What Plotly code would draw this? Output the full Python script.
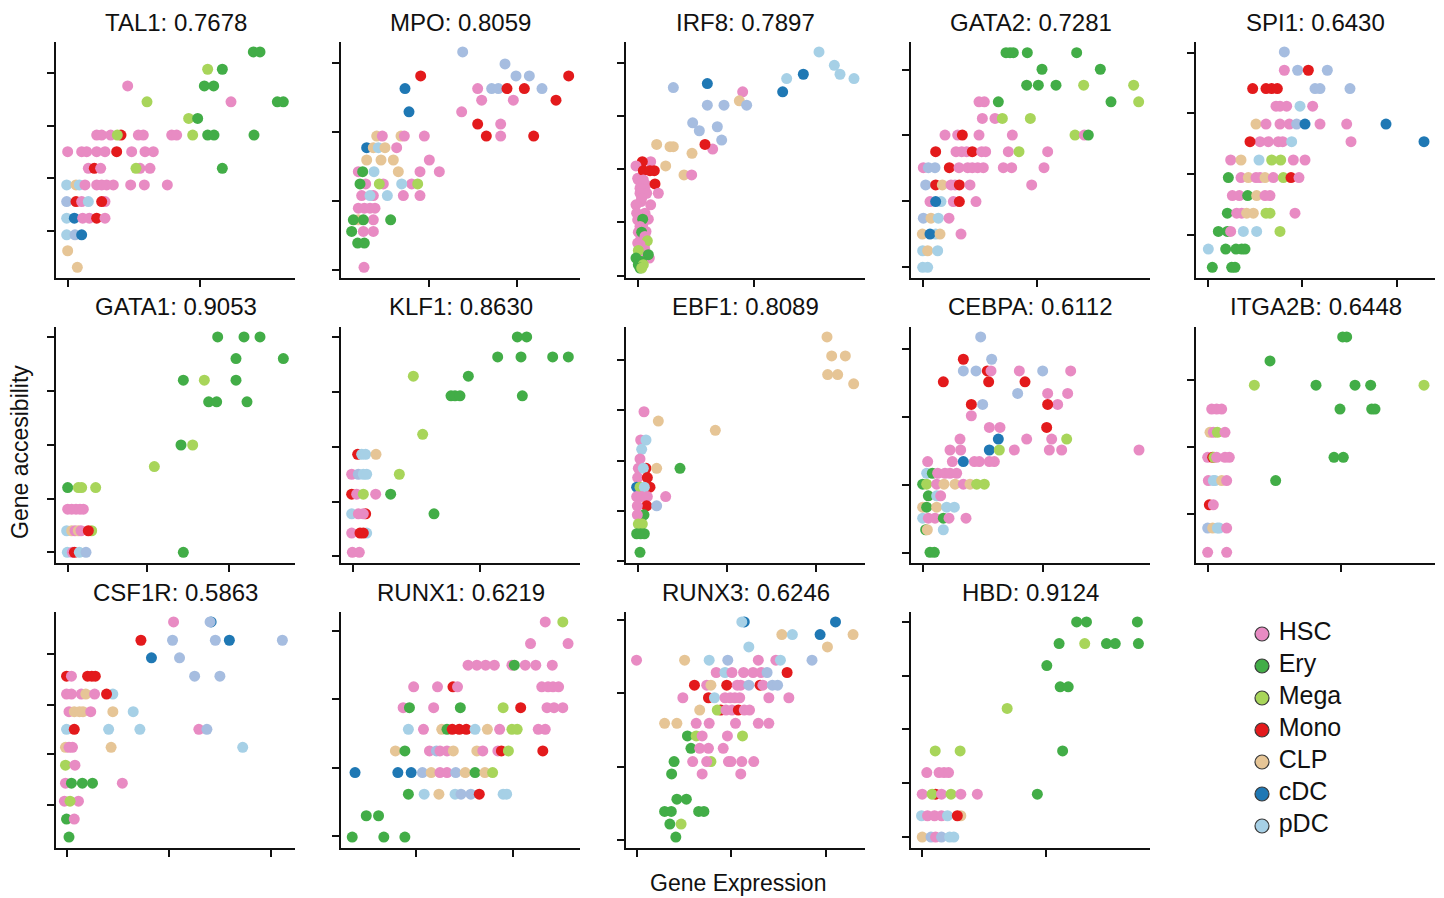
import plotly.graph_objects as go

W, H = 1444, 898

CELL_TYPES = ["HSC", "Ery", "Mega", "Mono", "CLP", "cDC", "pDC"]
CODE_NAME = {"H": "HSC", "E": "Ery", "M": "Mega", "O": "Mono", "C": "CLP", "D": "cDC", "P": "pDC", "Q": "pDC"}
COLORS = {"H": "#e88bc3", "E": "#42ad47", "M": "#a8d55a", "O": "#e31a1c",
          "C": "#e6c596", "D": "#1f78b4", "P": "#a6d0e6", "Q": "#a6bde0"}
LEGEND_CODES = ["H", "E", "M", "O", "C", "D", "P"]

GENES = ["TAL1", "MPO", "IRF8", "GATA2", "SPI1", "GATA1", "KLF1", "EBF1",
         "CEBPA", "ITGA2B", "CSF1R", "RUNX1", "RUNX3", "HBD"]
SCORES = ["0.7678", "0.8059", "0.7897", "0.7281", "0.6430", "0.9053", "0.8630", "0.8089",
          "0.6112", "0.6448", "0.5863", "0.6219", "0.6246", "0.9124"]

# (expression, accessibility, cell type code)
TAL1 = [
    (32,280,'P'),(60,280,'C'),(70,280,'P'),(87,280,'H'),(122,280,'H'),(137,280,'H'),(152,280,'H'),(172,280,'H'),
    (224,280,'H'),(265,280,'H'),(334,280,'H'),
    (32,230,'Q'),(60,230,'O'),(77,230,'H'),(97,230,'P'),(147,230,'H'),(137,230,'O'),
    (32,180,'P'),(55,180,'D'),(80,180,'H'),(100,180,'H'),(122,180,'O'),(147,180,'H'),
    (32,130,'P'),(57,130,'Q'),(77,130,'D'),
    (35,82,'C'),(64,32,'C'),
    (97,330,'H'),(115,330,'O'),(134,330,'H'),(252,330,'H'),(240,330,'M'),(282,330,'H'),(499,330,'E'),
    (35,380,'H'),(77,380,'H'),(92,380,'H'),(122,380,'H'),(147,380,'H'),(182,380,'O'),(227,380,'H'),(267,380,'H'),(292,380,'H'),
    (122,430,'H'),(137,430,'H'),(164,430,'H'),(195,430,'O'),(184,430,'M'),(247,430,'H'),(262,430,'H'),(347,430,'H'),
    (362,430,'H'),(410,430,'M'),(455,430,'E'),(474,430,'E'),(594,430,'E'),
    (398,480,'M'),(425,480,'E'),
    (273,530,'M'),(525,530,'H'),(664,530,'E'),(682,530,'E'),
    (215,578,'H'),(445,578,'E'),(473,578,'E'),
    (455,628,'M'),(499,628,'E'),
    (592,680,'E'),(612,680,'E'),
]
MPO = [
    (365,680,'Q'),(492,644,'Q'),
    (239,608,'O'),(525,608,'Q'),(565,608,'Q'),(683,608,'O'),
    (192,570,'D'),(410,570,'H'),(452,570,'Q'),(472,570,'Q'),(498,570,'O'),(550,570,'O'),(603,570,'Q'),
    (422,535,'H'),(517,535,'H'),(645,535,'O'),
    (204,500,'D'),(362,500,'H'),
    (410,463,'O'),(479,463,'H'),
    (107,427,'C'),(124,427,'H'),(180,427,'C'),(190,427,'H'),(250,427,'H'),(436,427,'O'),(479,427,'H'),(578,427,'O'),
    (77,392,'D'),(97,392,'C'),(112,392,'P'),(132,392,'C'),(167,392,'H'),
    (77,355,'C'),(120,355,'C'),(157,355,'C'),(265,355,'H'),
    (52,320,'H'),(65,320,'E'),(99,320,'P'),(172,320,'C'),(237,320,'H'),(295,320,'H'),
    (74,283,'H'),(57,283,'E'),(127,283,'H'),(115,283,'M'),(212,283,'H'),(182,283,'P'),(230,283,'M'),
    (62,248,'H'),(97,248,'H'),(87,248,'P'),(139,248,'P'),(187,248,'H'),(237,248,'H'),
    (52,210,'H'),(70,210,'H'),(87,210,'H'),(102,210,'H'),
    (52,175,'C'),(97,175,'H'),(37,175,'E'),(67,175,'E'),(149,175,'E'),
    (67,140,'H'),(97,140,'H'),(32,140,'E'),
    (50,105,'E'),(70,105,'E'),
    (69,32,'H'),
]
IRF8 = [
    (579,680,'P'),(625,640,'P'),(532,613,'D'),(642,613,'P'),(482,600,'P'),(684,600,'P'),
    (244,585,'D'),(142,573,'Q'),(350,560,'H'),(470,560,'D'),(340,533,'C'),
    (244,520,'Q'),(294,520,'Q'),(362,520,'Q'),
    (200,467,'Q'),(274,455,'Q'),(220,443,'Q'),(287,415,'Q'),
    (92,402,'C'),(132,395,'C'),(142,395,'C'),(260,388,'H'),(237,402,'O'),(198,375,'C'),
    (74,350,'H'),(49,350,'O'),(30,337,'H'),(119,337,'C'),
    (35,300,'H'),(60,280,'H'),(45,230,'H'),(35,175,'H'),(50,160,'H'),(60,140,'H'),(45,120,'H'),
    (35,105,'H'),(55,95,'H'),(40,75,'H'),
    (52,323,'O'),(72,323,'O'),(85,323,'O'),(174,310,'C'),(197,310,'H'),
    (37,295,'H'),(52,295,'H'),(87,283,'O'),(42,270,'H'),
    (97,255,'H'),(42,255,'H'),(62,255,'H'),(47,240,'H'),(30,220,'H'),(74,220,'H'),
    (32,195,'H'),(57,195,'H'),(67,177,'H'),(50,177,'E'),
    (42,155,'H'),(37,138,'H'),(47,138,'E'),(57,125,'H'),(64,112,'M'),(42,100,'H'),
    (57,83,'H'),(37,83,'M'),(70,60,'H'),(67,70,'E'),(30,60,'E'),(47,50,'E'),
    (37,40,'E'),(52,40,'M'),(42,30,'E'),(47,30,'M'),
]
GATA2 = [
    (285,678,'E'),(297,678,'E'),(307,678,'E'),(349,678,'E'),(497,678,'E'),
    (393,628,'E'),(568,628,'E'),
    (347,580,'E'),(382,580,'E'),(435,580,'E'),(518,580,'M'),(668,580,'M'),
    (204,530,'H'),(220,530,'H'),(262,530,'E'),(600,530,'E'),(683,530,'M'),
    (214,480,'H'),(252,480,'H'),(274,480,'M'),(358,480,'M'),
    (102,430,'H'),(140,430,'H'),(154,430,'O'),(204,430,'H'),(304,430,'H'),(492,430,'M'),(520,430,'H'),(532,430,'E'),
    (74,380,'O'),(135,380,'H'),(152,380,'H'),(167,380,'H'),(184,380,'O'),(212,380,'H'),(224,380,'H'),(292,380,'H'),
    (324,380,'M'),(410,380,'H'),
    (37,332,'H'),(52,332,'Q'),(72,332,'Q'),(115,332,'O'),(144,332,'H'),(170,332,'H'),(184,332,'H'),(200,332,'H'),
    (217,332,'H'),(277,332,'H'),(302,332,'H'),(399,332,'H'),
    (44,280,'Q'),(74,280,'O'),(94,280,'C'),(120,280,'H'),(132,280,'H'),(145,280,'O'),(177,280,'H'),(362,280,'H'),
    (57,230,'H'),(90,230,'P'),(74,230,'D'),(127,230,'H'),(145,230,'O'),(195,230,'H'),
    (37,180,'Q'),(60,180,'C'),(82,180,'P'),(114,180,'H'),
    (34,132,'C'),(74,132,'P'),(57,132,'D'),(87,132,'C'),(150,132,'H'),
    (35,82,'P'),(50,82,'C'),(80,82,'P'),
    (35,32,'P'),(50,32,'P'),
]
SPI1 = [
    (265,680,'Q'),
    (265,625,'H'),(305,625,'Q'),(337,625,'O'),(394,625,'Q'),
    (170,570,'O'),(210,570,'O'),(227,570,'O'),(244,570,'O'),(357,570,'Q'),(372,570,'Q'),(462,570,'Q'),
    (240,517,'H'),(252,517,'H'),(272,517,'H'),(312,517,'P'),(350,517,'H'),
    (180,463,'C'),(210,463,'H'),(252,463,'H'),(280,463,'H'),(302,463,'Q'),(327,463,'D'),(372,463,'H'),(452,463,'H'),(570,463,'D'),
    (192,410,'H'),(217,410,'H'),(247,410,'H'),(260,410,'H'),(162,410,'O'),(287,410,'P'),(465,410,'H'),(684,410,'D'),
    (104,355,'H'),(135,355,'C'),(189,355,'P'),(227,355,'M'),(254,355,'M'),(292,355,'H'),(327,355,'H'),
    (97,302,'E'),(135,302,'H'),(157,302,'C'),(180,302,'H'),(192,302,'H'),(207,302,'C'),(232,302,'H'),(262,302,'M'),
    (285,302,'O'),(309,302,'H'),
    (109,248,'H'),(130,248,'H'),(155,248,'E'),(182,248,'C'),(207,248,'H'),(222,248,'H'),
    (94,195,'E'),(122,195,'H'),(137,195,'H'),(152,195,'C'),(172,195,'C'),(210,195,'M'),(222,195,'M'),(297,195,'H'),
    (67,140,'E'),(94,140,'E'),(104,140,'H'),(142,140,'P'),(182,140,'P'),(252,140,'M'),
    (37,87,'P'),(89,87,'E'),(120,87,'E'),(137,87,'E'),(147,87,'E'),
    (49,32,'E'),(107,32,'E'),(117,32,'E'),
]
GATA1 = [
    (485,680,'E'),(564,680,'E'),(612,680,'E'),
    (540,615,'E'),(682,615,'E'),
    (382,550,'E'),(445,550,'M'),(540,550,'E'),
    (458,485,'E'),(482,485,'E'),(573,485,'E'),
    (375,355,'E'),(410,355,'M'),
    (295,290,'M'),
    (35,227,'E'),(67,227,'M'),(77,227,'M'),(119,227,'M'),
    (35,162,'H'),(47,162,'H'),(60,162,'H'),(72,162,'H'),(82,162,'H'),
    (107,97,'M'),(32,97,'P'),(47,97,'C'),(57,97,'H'),(67,97,'C'),(75,97,'H'),(97,97,'O'),
    (34,32,'P'),(49,32,'H'),(55,32,'O'),(70,32,'P'),(90,32,'Q'),(382,32,'E'),
]
KLF1 = [
    (529,680,'E'),(557,680,'E'),
    (470,620,'E'),(540,620,'E'),(635,620,'E'),(682,620,'E'),
    (217,562,'M'),(382,562,'E'),
    (330,503,'E'),(342,503,'E'),(357,503,'E'),(544,503,'E'),
    (245,387,'M'),
    (50,327,'O'),(62,327,'P'),(74,327,'P'),(105,327,'C'),
    (32,267,'H'),(52,267,'Q'),(67,267,'P'),(77,267,'P'),(175,267,'M'),
    (32,207,'O'),(47,207,'H'),(67,207,'M'),(104,207,'H'),(149,207,'E'),
    (32,148,'P'),(52,148,'H'),(74,148,'O'),(67,148,'H'),(279,148,'E'),
    (32,90,'H'),(57,90,'O'),(77,90,'P'),(67,90,'O'),
    (34,32,'H'),(55,32,'H'),
]
EBF1 = [
    (603,680,'C'),(617,623,'C'),(658,623,'C'),(605,567,'C'),(635,567,'C'),(683,539,'C'),
    (54,455,'H'),(97,427,'C'),(268,399,'C'),
    (44,370,'H'),(60,370,'P'),(47,342,'P'),(42,313,'H'),
    (37,285,'H'),(60,285,'O'),(52,285,'P'),(92,285,'C'),(162,285,'E'),
    (35,257,'H'),(64,257,'O'),
    (32,228,'D'),(72,228,'O'),(42,228,'M'),(55,228,'P'),
    (32,200,'H'),(47,200,'H'),(64,200,'H'),(119,200,'H'),
    (62,172,'O'),(34,172,'H'),(92,172,'Q'),
    (54,145,'E'),(34,145,'H'),
    (37,117,'M'),(49,117,'M'),
    (32,88,'E'),(44,88,'E'),(55,88,'E'),
    (42,32,'E'),
]
CEBPA = [
    (209,680,'Q'),
    (157,613,'O'),(242,613,'Q'),
    (157,578,'Q'),(195,578,'Q'),(229,578,'O'),(240,578,'H'),(325,578,'H'),(395,578,'Q'),(479,578,'H'),
    (97,545,'O'),(233,545,'O'),(342,545,'O'),
    (320,510,'Q'),(410,510,'H'),(470,510,'H'),
    (181,477,'O'),(215,477,'Q'),(440,477,'H'),(410,477,'O'),
    (181,443,'H'),
    (235,408,'H'),(267,408,'H'),(407,408,'O'),
    (147,373,'H'),(262,373,'D'),(347,373,'H'),(422,373,'H'),(467,373,'M'),
    (117,340,'H'),(149,340,'H'),(235,340,'D'),(265,340,'M'),(310,340,'H'),(415,340,'H'),(452,340,'H'),(684,340,'H'),
    (50,305,'H'),(124,305,'H'),(157,305,'D'),(190,305,'H'),(205,305,'H'),(235,305,'H'),(250,305,'H'),
    (47,270,'P'),(64,270,'E'),(80,270,'H'),(102,270,'H'),(117,270,'H'),(137,270,'H'),
    (35,237,'E'),(47,237,'M'),(77,237,'H'),(99,237,'C'),(132,237,'C'),(157,237,'H'),(177,237,'C'),(197,237,'M'),(220,237,'M'),
    (52,202,'E'),(77,202,'P'),(89,202,'H'),
    (35,168,'C'),(47,168,'E'),(77,168,'C'),(107,168,'P'),(130,168,'P'),
    (35,135,'P'),(52,135,'H'),(72,135,'H'),(97,135,'E'),(114,135,'H'),(165,135,'H'),
    (44,100,'E'),(49,100,'C'),(97,100,'P'),
    (57,32,'E'),(70,32,'E'),
]
ITGA2B = [
    (440,680,'E'),(452,680,'E'),
    (222,608,'E'),
    (175,535,'M'),(360,535,'E'),(477,535,'E'),(524,535,'E'),(684,535,'M'),
    (47,463,'H'),(62,463,'H'),(77,463,'H'),(432,463,'E'),(527,463,'E'),(537,463,'E'),
    (42,393,'C'),(52,393,'H'),(64,393,'M'),(87,393,'H'),
    (35,318,'H'),(50,318,'O'),(54,318,'M'),(62,318,'H'),(87,318,'H'),(100,318,'H'),(414,318,'E'),(442,318,'E'),
    (37,248,'H'),(52,248,'P'),(57,248,'P'),(77,248,'C'),(92,248,'H'),(239,248,'E'),
    (40,175,'O'),(52,175,'H'),
    (35,105,'Q'),(50,105,'C'),(64,105,'P'),(70,105,'P'),(92,105,'H'),
    (35,32,'H'),(92,32,'H'),
]
CSF1R = [
    (335,680,'H'),(442,680,'D'),(439,680,'Q'),
    (242,625,'O'),(332,625,'Q'),(454,625,'Q'),(494,625,'D'),(645,625,'Q'),
    (272,572,'D'),(352,572,'Q'),
    (30,517,'O'),(44,517,'H'),(90,517,'O'),(102,517,'O'),(112,517,'O'),(395,517,'Q'),(467,517,'Q'),
    (30,463,'H'),(44,463,'H'),(72,463,'H'),(85,463,'C'),(110,463,'H'),(162,463,'P'),(144,463,'O'),
    (37,410,'H'),(52,410,'C'),(67,410,'C'),(77,410,'C'),(99,410,'H'),(162,410,'C'),(220,410,'P'),
    (30,357,'P'),(52,357,'O'),(150,357,'P'),(239,357,'P'),(407,357,'H'),(430,357,'Q'),
    (27,303,'C'),(37,303,'H'),(47,303,'H'),(157,303,'C'),(532,303,'P'),
    (27,249,'M'),(54,249,'H'),
    (27,195,'H'),(44,195,'E'),(75,195,'E'),(104,195,'E'),(189,195,'H'),
    (24,141,'H'),(64,141,'H'),(40,141,'M'),
    (30,87,'E'),(52,87,'H'),
    (37,33,'E'),
]
RUNX1 = [
    (582,680,'H'),(632,680,'M'),
    (540,615,'H'),(647,615,'H'),
    (362,550,'H'),(387,550,'H'),(412,550,'H'),(437,550,'H'),(487,550,'H'),(494,550,'E'),(525,550,'H'),(555,550,'H'),(602,550,'H'),
    (207,485,'H'),(275,485,'H'),(319,485,'O'),(332,485,'H'),(572,485,'H'),(590,485,'H'),(604,485,'H'),(620,485,'H'),
    (177,422,'H'),(195,422,'E'),(264,422,'H'),(340,422,'E'),(462,422,'M'),(512,422,'O'),(587,422,'H'),(607,422,'H'),(632,422,'H'),
    (192,357,'P'),(235,357,'H'),(287,357,'C'),(302,357,'E'),(317,357,'O'),(337,357,'O'),(357,357,'O'),(382,357,'P'),
    (417,357,'C'),(452,357,'H'),(487,357,'M'),(502,357,'M'),(562,357,'H'),(582,357,'H'),
    (155,292,'C'),(182,292,'E'),(252,292,'H'),(272,292,'Q'),(282,292,'H'),(302,292,'H'),(320,292,'C'),(387,292,'C'),
    (404,292,'H'),(447,292,'H'),(457,292,'O'),(477,292,'M'),(575,292,'O'),
    (40,227,'D'),(162,227,'D'),(200,227,'D'),(232,227,'Q'),(257,227,'C'),(282,227,'H'),(302,227,'H'),(327,227,'Q'),
    (354,227,'C'),(382,227,'E'),(410,227,'C'),(432,227,'M'),
    (192,162,'E'),(237,162,'P'),(279,162,'C'),(325,162,'P'),(342,162,'Q'),(370,162,'Q'),(394,162,'O'),(462,162,'P'),(472,162,'P'),
    (72,97,'E'),(107,97,'E'),
    (32,33,'E'),(122,33,'E'),(182,33,'E'),
]
RUNX3 = [
    (337,680,'D'),(330,680,'P'),(597,680,'D'),
    (444,642,'C'),(474,642,'P'),(553,642,'D'),(647,642,'C'),
    (350,605,'P'),(574,605,'C'),
    (30,565,'H'),(167,565,'C'),(237,565,'P'),(290,565,'Q'),(377,565,'H'),(427,565,'H'),(440,565,'P'),(530,565,'Q'),
    (257,528,'H'),(282,528,'P'),(302,528,'H'),(335,528,'H'),(362,528,'H'),(385,528,'H'),(402,528,'Q'),(459,528,'O'),
    (195,490,'O'),(230,490,'H'),(242,490,'C'),(287,490,'O'),(317,490,'H'),(327,490,'H'),(350,490,'Q'),(382,490,'O'),
    (390,490,'H'),(417,490,'Q'),(432,490,'Q'),
    (162,452,'H'),(235,452,'O'),(252,452,'P'),(282,452,'H'),(297,452,'H'),(310,452,'H'),(324,452,'H'),(407,452,'H'),(464,452,'H'),
    (210,415,'C'),(270,415,'O'),(260,415,'M'),(285,415,'H'),(302,415,'H'),(320,415,'O'),(337,415,'H'),(352,415,'H'),
    (110,375,'C'),(145,375,'C'),(200,375,'H'),(237,375,'H'),(312,375,'H'),(377,375,'H'),(407,375,'H'),
    (175,337,'E'),(200,337,'M'),(217,337,'H'),(289,337,'H'),(332,337,'M'),
    (185,300,'E'),(210,300,'H'),(235,300,'H'),(277,300,'H'),
    (137,260,'E'),(190,260,'H'),(242,260,'M'),(230,260,'H'),(292,260,'H'),(299,260,'H'),(330,260,'H'),(364,260,'H'),
    (130,223,'E'),(217,223,'H'),(327,223,'H'),
    (145,147,'E'),(172,147,'E'),
    (110,110,'E'),(129,110,'E'),(207,110,'E'),(222,110,'E'),
    (125,72,'E'),(157,72,'M'),
    (142,33,'E'),
]
HBD = [
    (472,680,'E'),(500,680,'E'),(645,680,'E'),
    (422,615,'E'),(495,615,'M'),(557,615,'E'),(582,615,'E'),(648,615,'E'),
    (387,549,'E'),(425,485,'E'),(448,485,'E'),(274,420,'M'),
    (69,292,'M'),(140,292,'M'),(432,292,'E'),
    (45,227,'H'),(80,227,'H'),(94,227,'H'),(107,227,'H'),
    (32,162,'H'),(70,162,'O'),(60,162,'M'),(87,162,'H'),(114,162,'M'),(142,162,'H'),(189,162,'H'),(360,162,'E'),
    (30,97,'P'),(47,97,'H'),(67,97,'H'),(87,97,'H'),(104,97,'P'),(142,97,'C'),(132,97,'O'),
    (32,33,'C'),(57,33,'Q'),(70,33,'H'),(87,33,'Q'),(110,33,'P'),(122,33,'P'),
]

PANEL_DATA = [TAL1, MPO, IRF8, GATA2, SPI1, GATA1, KLF1, EBF1, CEBPA, ITGA2B, CSF1R, RUNX1, RUNX3, HBD]

X_TICKS = [[35, 433], [265, 527], [35, 384], [35, 379], [35, 319, 604],
           [35, 274, 519], [35, 417], [35, 302, 569], [37, 395], [35, 435],
           [30, 322, 612], [214, 490], [30, 299, 569], [30, 385]]
Y_TICKS = [[142, 300, 458, 618], [25, 233, 440, 648], [7, 167, 327, 487, 648], [34, 232, 430, 627], [129, 312, 495, 678],
           [32, 193, 355, 517, 680], [20, 185, 350, 513, 680], [5, 155, 308, 460, 612], [30, 235, 440, 645], [147, 348, 550],
           [130, 282, 430, 583], [35, 242, 448, 653], [25, 245, 465, 685], [32, 195, 357, 517, 680]]
X_MAX = [717] * 10 + [681] * 4
Y_MAX = 710

FONT = "Liberation Sans, Arial, Helvetica, sans-serif"
INK = "#111111"

fig = go.Figure()
layout = dict(width=W, height=H, margin=dict(l=0, r=0, t=0, b=0),
              paper_bgcolor="white", plot_bgcolor="white", showlegend=False,
              font=dict(family=FONT, color=INK))
annotations = []

PX_LEFT, PX_TOP, STEP, PW, PH = 56, 42, 285, 239, 236

for i, pts in enumerate(PANEL_DATA):
    r, c = divmod(i, 5)
    sfx = "" if i == 0 else str(i + 1)
    xs = [p[0] for p in pts]
    ys = [p[1] for p in pts]
    cols = [COLORS[p[2]] for p in pts]
    names = [CODE_NAME[p[2]] for p in pts]
    fig.add_trace(go.Scatter(
        x=xs, y=ys, mode="markers", text=names,
        marker=dict(size=11, color=cols, line=dict(width=0)),
        xaxis="x" + sfx, yaxis="y" + sfx, showlegend=False,
        hovertemplate="%{text}<extra>" + GENES[i] + "</extra>"))
    x0 = PX_LEFT + STEP * c
    y0 = PX_TOP + STEP * r
    axis_common = dict(showgrid=False, zeroline=False, showline=True, linecolor=INK,
                       linewidth=1.8, ticks="outside", ticklen=7, tickwidth=1.6,
                       tickcolor=INK, showticklabels=False, fixedrange=True)
    layout["xaxis" + sfx] = dict(domain=[x0 / W, (x0 + PW) / W], range=[0, X_MAX[i]],
                                 anchor="y" + sfx, tickmode="array", tickvals=X_TICKS[i], **axis_common)
    layout["yaxis" + sfx] = dict(domain=[1 - (y0 + PH) / H, 1 - y0 / H], range=[0, Y_MAX],
                                 anchor="x" + sfx, tickmode="array", tickvals=Y_TICKS[i], **axis_common)
    annotations.append(dict(text=f"{GENES[i]}: {SCORES[i]}", xref="paper", yref="paper",
                            x=(x0 + PW / 2) / W, y=1 - (y0 - 20) / H, xanchor="center", yanchor="middle",
                            showarrow=False, font=dict(size=24, family=FONT, color=INK)))

# Legend drawn as a categorical scatter on its own hidden axes
n = len(LEGEND_CODES)
leg_idx = list(range(n))
fig.add_trace(go.Scatter(
    x=[0] * n, y=leg_idx, mode="markers+text",
    text=[" " + CODE_NAME[c] for c in LEGEND_CODES], textposition="middle right",
    textfont=dict(size=25, family=FONT, color=INK),
    marker=dict(size=14, color=[COLORS[c] for c in LEGEND_CODES], line=dict(width=1.2, color="#3a3a3a")),
    xaxis="x15", yaxis="y15", showlegend=False, hoverinfo="skip", cliponaxis=False))
layout["xaxis15"] = dict(domain=[1250 / W, 1400 / W], range=[-0.08, 0.92], visible=False, fixedrange=True, anchor="y15")
layout["yaxis15"] = dict(domain=[1 - 842 / H, 1 - 618 / H], range=[n - 0.5, -0.5], visible=False, fixedrange=True, anchor="x15")

annotations.append(dict(text="Gene accesibility", xref="paper", yref="paper", x=20 / W, y=1 - 452 / H,
                        xanchor="center", yanchor="middle", textangle=-90, showarrow=False,
                        font=dict(size=23, family=FONT, color=INK)))
annotations.append(dict(text="Gene Expression", xref="paper", yref="paper", x=738 / W, y=1 - 883 / H,
                        xanchor="center", yanchor="middle", showarrow=False,
                        font=dict(size=23, family=FONT, color=INK)))

layout["annotations"] = annotations
fig.update_layout(**layout)
fig.write_html("out.html")
